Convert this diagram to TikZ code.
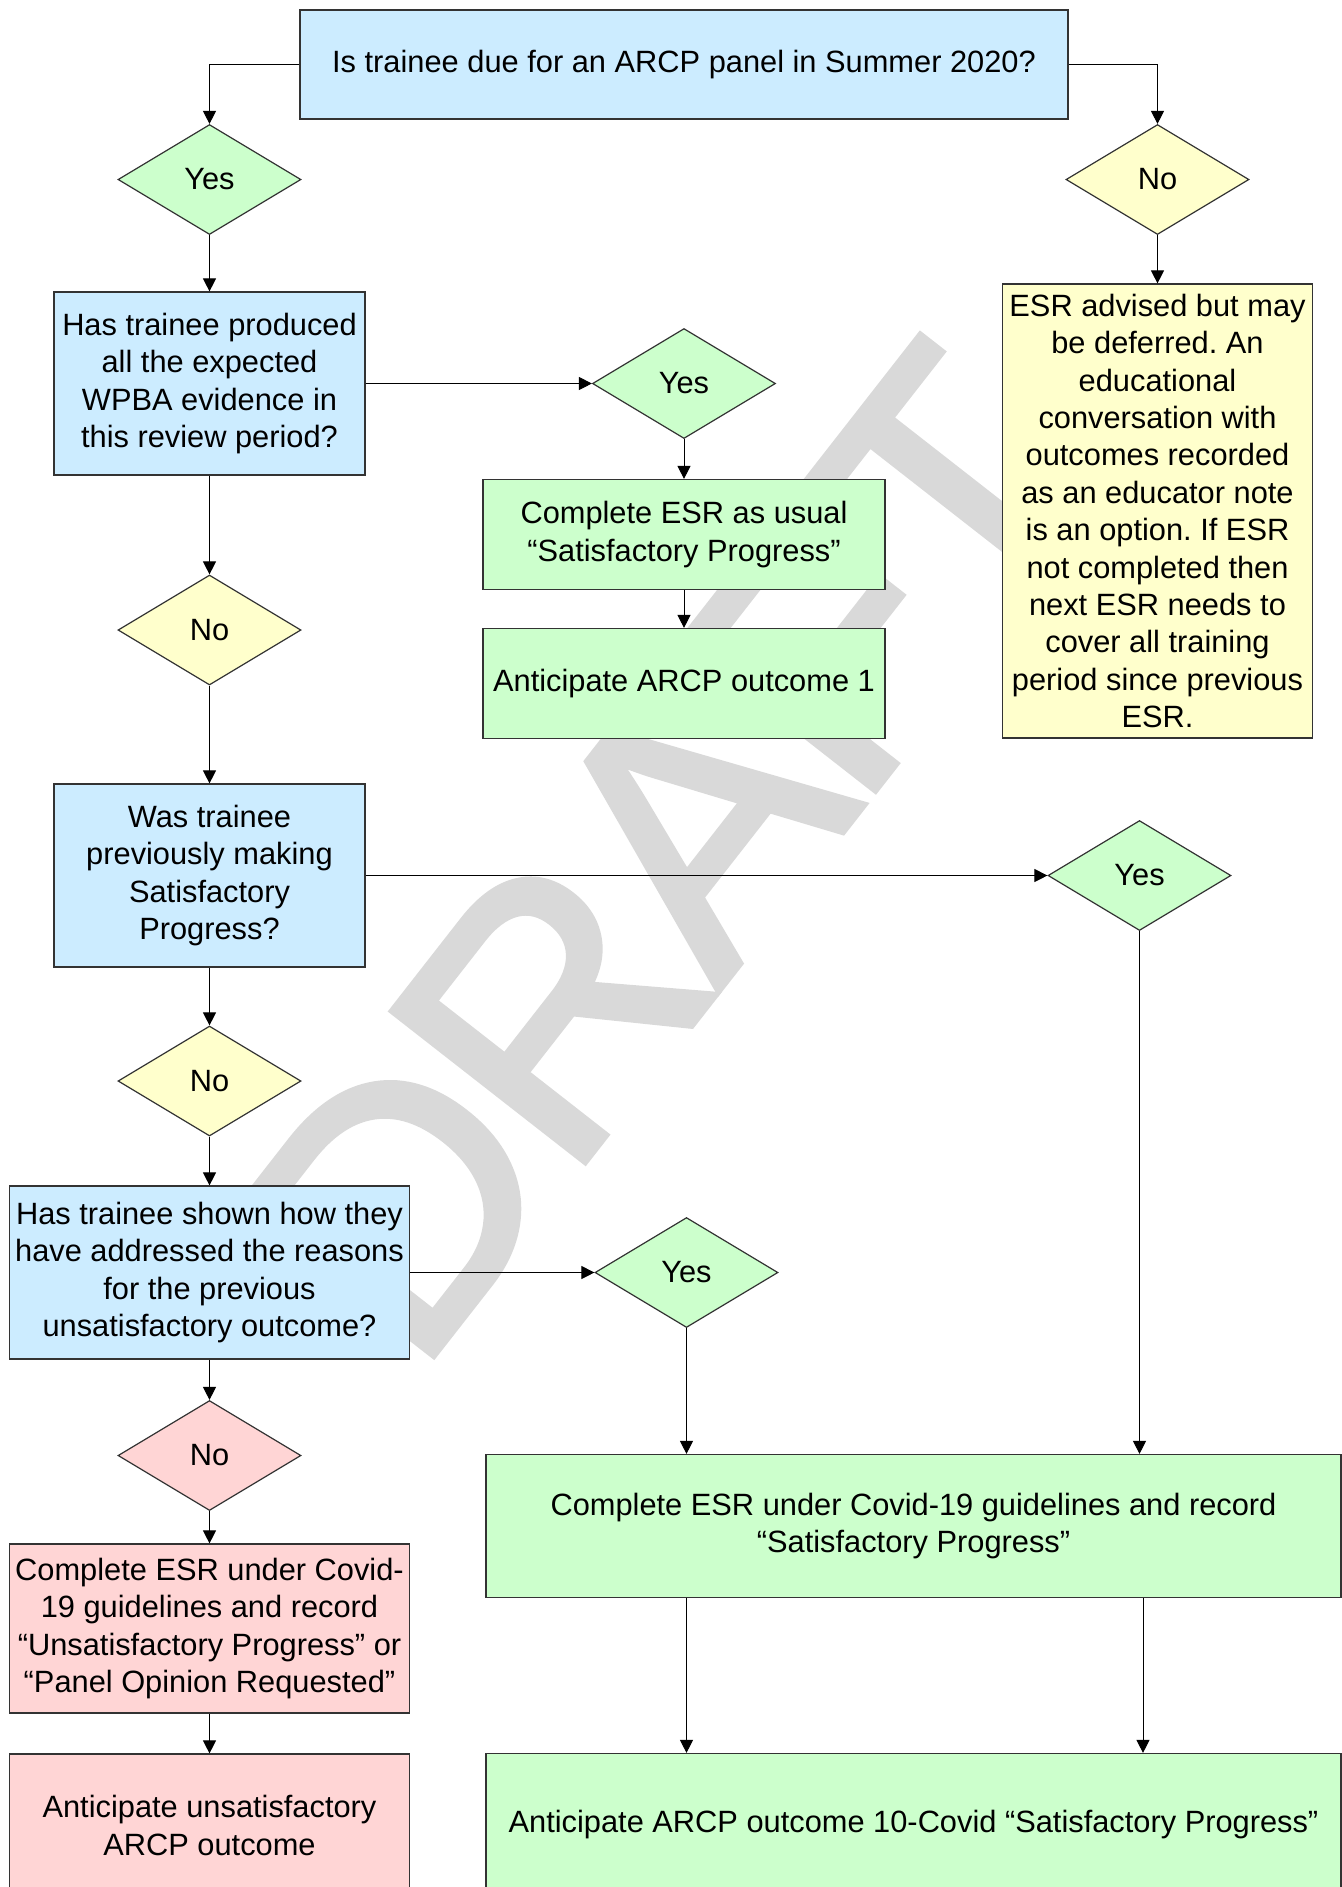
\documentclass[tikz,border=0pt]{standalone}
\usepackage{fontspec}
\setmainfont{Liberation Sans}
\newfontfamily\draftfont[FakeBold=2,LetterSpace=-3]{Liberation Sans}
\usepackage{tikz}
\usetikzlibrary{positioning,shapes.geometric,arrows.meta}
\definecolor{askblue}{HTML}{CCECFF}
\definecolor{okgreen}{HTML}{CCFFCC}
\definecolor{waityellow}{HTML}{FFFFCC}
\definecolor{badpink}{HTML}{FFD5D5}
\frenchspacing

\begin{document}
\begin{tikzpicture}[>={Triangle[length=6.5pt,width=6.5pt]},
    every node/.style={on grid,inner sep=0pt,align=center,font=\fontsize{15.4}{18.7}\selectfont},
    box/.style={rectangle,draw=black!80,line width=0.6pt},
    askbox/.style={box,fill=askblue,minimum width=155.5pt,minimum height=91.5pt},
    okbox/.style={box,fill=okgreen,minimum width=201pt,minimum height=55pt},
    choice/.style={diamond,draw=black!80,line width=0.6pt,minimum width=91.5pt,minimum height=55pt},
    yesdia/.style={choice,fill=okgreen},
    nodia/.style={choice,fill=waityellow},
    draftmark/.style={text=black!15,rotate=52,anchor=base west,font=\draftfont\fontsize{177.5}{177.5}\selectfont}]
    \useasboundingbox (0,0) rectangle (671pt,-943.5pt);
    \node[draftmark] (wm) at (207.75pt,-689.2pt) {DRAFT};
    \node[askbox,minimum width=384pt,minimum height=54.5pt] (q1) at (342pt,-32.25pt) {Is trainee due for an ARCP panel in Summer 2020?};
    \node[yesdia,below left=57.5pt and 237.25pt of q1] (yes1) {Yes};
    \node[nodia,below right=57.5pt and 236.75pt of q1] (no1) {No};
    \node[box,fill=waityellow,minimum width=155pt,minimum height=227pt,below=165.75pt of no1] (note) {ESR advised but may\\be deferred. An\\educational\\conversation with\\outcomes recorded\\as an educator note\\is an option. If ESR\\not completed then\\next ESR needs to\\cover all training\\period since previous\\ESR.};
    \node[askbox,below=102pt of yes1] (q2) {Has trainee produced\\all the expected\\WPBA evidence in\\this review period?};
    \node[yesdia,right=237.25pt of q2] (yes2) {Yes};
    \node[okbox,below=75.5pt of yes2] (esr) {Complete ESR as usual\\“Satisfactory Progress”};
    \node[okbox,below=74.5pt of esr] (out1) {Anticipate ARCP outcome 1};
    \node[nodia,below=123.25pt of q2] (no2) {No};
    \node[askbox,below=122.75pt of no2] (q3) {Was trainee\\previously making\\Satisfactory\\Progress?};
    \node[yesdia,right=465pt of q3] (yes3) {Yes};
    \node[nodia,below=102.75pt of q3] (no3) {No};
    \node[askbox,minimum width=200pt,minimum height=86.5pt,below=95.75pt of no3] (q4) {Has trainee shown how they\\have addressed the reasons\\for the previous\\unsatisfactory outcome?};
    \node[yesdia,right=238.5pt of q4] (yes4) {Yes};
    \node[choice,fill=badpink,below=91.5pt of q4] (no4) {No};
    \node[box,fill=badpink,minimum width=200pt,minimum height=84.5pt,below=86.5pt of no4] (unsat) {Complete ESR under Covid-\\19 guidelines and record\\“Unsatisfactory Progress” or\\“Panel Opinion Requested”};
    \node[box,fill=badpink,minimum width=200pt,minimum height=71.5pt,below=98.5pt of unsat] (unsatout) {Anticipate unsatisfactory\\ARCP outcome};
    \node[okbox,minimum width=427.5pt,minimum height=71.5pt,below right=126.75pt and 113.5pt of yes4] (covid) {Complete ESR under Covid-19 guidelines and record\\“Satisfactory Progress”};
    \node[okbox,minimum width=427.5pt,minimum height=71.5pt,below=149.5pt of covid] (covidout) {Anticipate ARCP outcome 10-Covid “Satisfactory Progress”};
    \begin{scope}[line width=0.5pt]
    \draw[->] (q1.west) -| (yes1.north);
    \draw[->] (q1.east) -| (no1.north);
    \draw[->] (no1) -- (note);
    \draw[->] (yes1) -- (q2);
    \draw[->] (q2) -- (yes2);
    \draw[->] (yes2) -- (esr);
    \draw[->] (esr) -- (out1);
    \draw[->] (q2) -- (no2);
    \draw[->] (no2) -- (q3);
    \draw[->] (q3) -- (yes3);
    \draw[->] (q3) -- (no3);
    \draw[->] (no3) -- (q4);
    \draw[->] (q4) -- (yes4);
    \draw[->] (q4) -- (no4);
    \draw[->] (no4) -- (unsat);
    \draw[->] (unsat) -- (unsatout);
    \draw[->] (yes4.south) -- (yes4.south |- covid.north);
    \draw[->] (yes3.south) -- (yes3.south |- covid.north);
    \draw[->] (covid.south -| yes4) -- (covidout.north -| yes4);
    \draw[->] ([xshift=1.75pt]covid.south -| yes3) -- ([xshift=1.75pt]covidout.north -| yes3);
    \end{scope}
\end{tikzpicture}
\end{document}
